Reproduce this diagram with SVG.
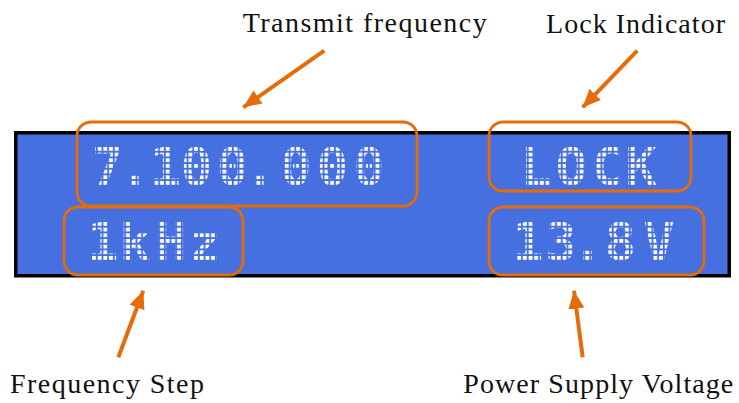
<svg xmlns="http://www.w3.org/2000/svg" width="739" height="403" viewBox="0 0 739 403">
<style>
.label{font-family:"Liberation Serif","Times New Roman",serif;font-size:28px;fill:#111}
.lcd{font-family:"DejaVu Sans Mono","Liberation Mono",monospace;font-size:52px;font-weight:bold}
.top{fill:url(#dotsTop)}
.bot{fill:url(#dotsBot)}
.box{fill:none;stroke:#E46C0A;stroke-width:2.8}
.arrow{stroke:#E46C0A;stroke-width:4;fill:none;marker-end:url(#head)}
</style>
<defs>
<marker id="head" markerUnits="userSpaceOnUse" markerWidth="20" markerHeight="18" refX="18" refY="8" orient="auto">
<path d="M0,0 L18,8 L0,16 z" fill="#E46C0A"/>
</marker>
<pattern id="dotsTop" patternUnits="userSpaceOnUse" x="0.5" y="147" width="5.67" height="5.67">
<rect x="0.8" y="0" width="3.8" height="3.8" fill="#ffffff"/>
</pattern>
<pattern id="dotsBot" patternUnits="userSpaceOnUse" x="0.5" y="222" width="5.67" height="5.67">
<rect x="0.8" y="0" width="3.8" height="3.8" fill="#ffffff"/>
</pattern>
</defs>
<rect width="739" height="403" fill="#ffffff"/>
<g id="lcd">
<rect x="15.75" y="132.75" width="713.5" height="143" fill="#4670E0" stroke="#000" stroke-width="3.5"/>
</g>
<g id="freq">
<text class="lcd top" x="91.85 118.85 149.85 180.85 216.85 243.85 280.35 316.85 353.35" y="185">7.100.000</text>
<rect class="box" x="77" y="122" width="340" height="84" rx="14"/>
</g>
<g id="step">
<text class="lcd bot" x="87.35 119.35 155.35 189.35" y="260">1kHz</text>
<rect class="box" x="64" y="207" width="179" height="68" rx="14"/>
</g>
<g id="lock">
<text class="lcd top" x="520.35 555.85 591.85 625.35" y="185">LOCK</text>
<rect class="box" x="489" y="122" width="202" height="69" rx="14"/>
</g>
<g id="volt">
<text class="lcd bot" x="512.35 545.35 571.85 604.85 643.35" y="260">13.8V</text>
<rect class="box" x="489" y="207" width="215" height="68" rx="14"/>
</g>
<g id="label-transmit"><text class="label" x="242.7" y="32.3" textLength="244" lengthAdjust="spacing">Transmit frequency</text></g>
<g id="label-lock"><text class="label" x="546" y="33.3" textLength="179" lengthAdjust="spacing">Lock Indicator</text></g>
<g id="label-step"><text class="label" x="10" y="393" textLength="194" lengthAdjust="spacing">Frequency Step</text></g>
<g id="label-volt"><text class="label" x="463.3" y="393" textLength="270" lengthAdjust="spacing">Power Supply Voltage</text></g>
<g id="connectors">
<line class="arrow" x1="324.3" y1="50.7" x2="243.3" y2="107.3"/>
<line class="arrow" x1="637.3" y1="50.7" x2="582.7" y2="107.3"/>
<line class="arrow" x1="118.3" y1="357.3" x2="143.3" y2="290.7"/>
<line class="arrow" x1="582.7" y1="357.3" x2="574" y2="290.7"/>
</g>
</svg>
